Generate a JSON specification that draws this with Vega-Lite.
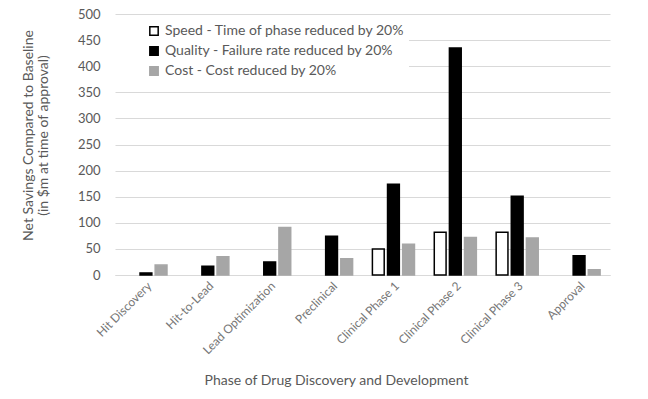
{
  "$schema": "https://vega.github.io/schema/vega-lite/v6.json",
  "width": 495,
  "height": 261,
  "autosize": {"type": "none"},
  "padding": {"left": 115, "top": 14, "right": 38, "bottom": 124},
  "background": "white",
  "config": {
    "font": "Lato",
    "view": {"stroke": null},
    "axis": {"labelColor": "#595959", "titleColor": "#595959", "titleFontWeight": "normal", "labelFont": "Lato", "titleFont": "Lato"}
  },
  "data": {
    "values": [
      {"phase": "Hit Discovery", "series": "Quality - Failure rate reduced by 20%", "value": 4},
      {"phase": "Hit Discovery", "series": "Cost - Cost reduced by 20%", "value": 19},
      {"phase": "Hit-to-Lead", "series": "Quality - Failure rate reduced by 20%", "value": 17},
      {"phase": "Hit-to-Lead", "series": "Cost - Cost reduced by 20%", "value": 35},
      {"phase": "Lead Optimization", "series": "Quality - Failure rate reduced by 20%", "value": 25},
      {"phase": "Lead Optimization", "series": "Cost - Cost reduced by 20%", "value": 91},
      {"phase": "Preclinical", "series": "Quality - Failure rate reduced by 20%", "value": 74},
      {"phase": "Preclinical", "series": "Cost - Cost reduced by 20%", "value": 31},
      {"phase": "Clinical Phase 1", "series": "Speed - Time of phase reduced by 20%", "value": 50},
      {"phase": "Clinical Phase 1", "series": "Quality - Failure rate reduced by 20%", "value": 174},
      {"phase": "Clinical Phase 1", "series": "Cost - Cost reduced by 20%", "value": 59},
      {"phase": "Clinical Phase 2", "series": "Speed - Time of phase reduced by 20%", "value": 82},
      {"phase": "Clinical Phase 2", "series": "Quality - Failure rate reduced by 20%", "value": 435},
      {"phase": "Clinical Phase 2", "series": "Cost - Cost reduced by 20%", "value": 72},
      {"phase": "Clinical Phase 3", "series": "Speed - Time of phase reduced by 20%", "value": 82},
      {"phase": "Clinical Phase 3", "series": "Quality - Failure rate reduced by 20%", "value": 151},
      {"phase": "Clinical Phase 3", "series": "Cost - Cost reduced by 20%", "value": 71},
      {"phase": "Approval", "series": "Quality - Failure rate reduced by 20%", "value": 37},
      {"phase": "Approval", "series": "Cost - Cost reduced by 20%", "value": 10}
    ]
  },
  "mark": {"type": "bar", "strokeWidth": 1.5},
  "encoding": {
    "x": {
      "field": "phase",
      "type": "nominal",
      "sort": ["Hit Discovery", "Hit-to-Lead", "Lead Optimization", "Preclinical", "Clinical Phase 1", "Clinical Phase 2", "Clinical Phase 3", "Approval"],
      "scale": {"paddingInner": 0.32, "paddingOuter": 0.16},
      "axis": {
        "title": "Phase of Drug Discovery and Development",
        "titleFontSize": 14,
        "titleX": 221,
        "titleY": 105,
        "titleBaseline": "middle",
        "labelAngle": -45,
        "labelFontSize": 12,
        "labelColor": "#767676",
        "labelPadding": 5,
        "ticks": false,
        "domainColor": "#d9d9d9",
        "domainWidth": 1
      }
    },
    "xOffset": {
      "field": "series",
      "type": "nominal",
      "scale": {"domain": ["Speed - Time of phase reduced by 20%", "Quality - Failure rate reduced by 20%", "Cost - Cost reduced by 20%"], "paddingInner": 0.22}
    },
    "y": {
      "field": "value",
      "type": "quantitative",
      "scale": {"domain": [0, 500]},
      "axis": {
        "title": ["Net Savings Compared to Baseline", "(in $m at time of approval)"],
        "titleFontSize": 14,
        "titleLineHeight": 15,
        "titlePadding": 27,
        "titleY": 121,
        "titleAlign": "center",
        "labelFontSize": 13,
        "labelPadding": 15,
        "values": [0, 50, 100, 150, 200, 250, 300, 350, 400, 450, 500],
        "ticks": false,
        "domain": false,
        "gridColor": "#d9d9d9"
      }
    },
    "fill": {
      "field": "series",
      "type": "nominal",
      "scale": {"domain": ["Speed - Time of phase reduced by 20%", "Quality - Failure rate reduced by 20%", "Cost - Cost reduced by 20%"], "range": ["white", "black", "#a6a6a6"]},
      "legend": {
        "title": null,
        "orient": "none",
        "legendX": 0,
        "legendY": 6,
        "fillColor": "white",
        "padding": 4,
        "symbolType": "square",
        "symbolSize": 70,
        "symbolOffset": 28,
        "symbolStrokeWidth": 1.5,
        "labelFontSize": 14,
        "labelColor": "#595959",
        "labelFont": "Lato",
        "rowPadding": 4,
        "labelOffset": 4,
        "labelLimit": 400
      }
    },
    "stroke": {
      "field": "series",
      "type": "nominal",
      "scale": {"domain": ["Speed - Time of phase reduced by 20%", "Quality - Failure rate reduced by 20%", "Cost - Cost reduced by 20%"], "range": ["black", "black", "#a6a6a6"]},
      "legend": null
    }
  }
}
